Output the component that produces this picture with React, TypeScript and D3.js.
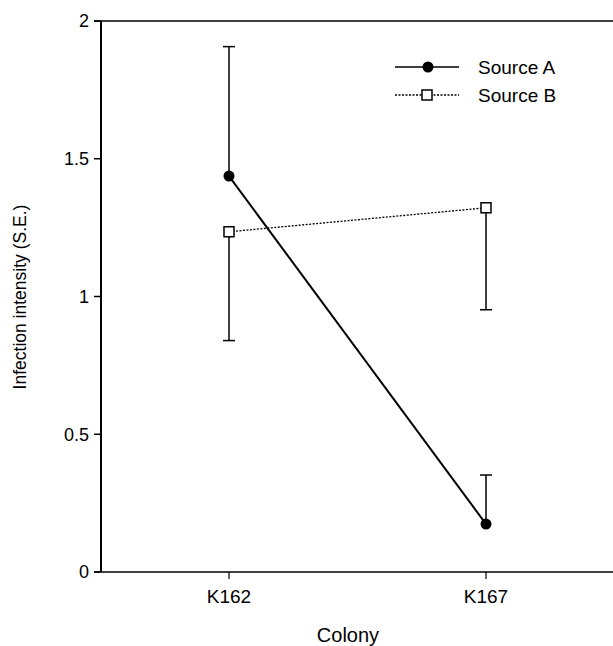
import React from "react";
import * as d3 from "d3";

const categories = ["K162", "K167"];
const sourceA = [1.437, 0.174];
const sourceAErrTop = [1.907, 0.352];
const sourceB = [1.235, 1.322];
const sourceBErrBottom = [0.84, 0.952];
const yTicks = [0, 0.5, 1, 1.5, 2];
const yTickLabels = ["0", "0.5", "1", "1.5", "2"];
const seriesNames = ["Source A", "Source B"];

export default function App() {
  const W = 613, H = 646;
  const left = 101, top = 21, bottom = 572, right = 613;
  const y = d3.scaleLinear().domain([0, 2]).range([bottom, top]);
  const x = d3.scalePoint().domain(categories).range([229, 486]);
  const line = d3.line<number>().x((_, i) => x(categories[i])!).y((d) => y(d));
  const font = "'Liberation Sans', Arial, Helvetica, sans-serif";
  const cap = 6;
  return (
    <svg width={W} height={H} style={{ position: "absolute", left: 0, top: 0, background: "#fff" }} fontFamily={font}>
      {/* axes */}
      <line x1={left} x2={left} y1={top} y2={bottom} stroke="#000" strokeWidth={2} />
      <line x1={left - 7} x2={right} y1={top} y2={top} stroke="#000" strokeWidth={1.5} />
      <line x1={left - 7} x2={right} y1={bottom} y2={bottom} stroke="#000" strokeWidth={1.5} />
      {yTicks.map((t, i) => (
        <g key={t}>
          <line x1={left - 7} x2={left} y1={y(t)} y2={y(t)} stroke="#000" strokeWidth={1.5} />
          <text x={left - 12} y={y(t)} dy="0.35em" textAnchor="end" fontSize={18}>{yTickLabels[i]}</text>
        </g>
      ))}
      {categories.map((c) => (
        <g key={c}>
          <line x1={x(c)} x2={x(c)} y1={bottom} y2={bottom + 7} stroke="#000" strokeWidth={1.2} />
          <text x={x(c)} y={bottom + 24} dy="0.35em" textAnchor="middle" fontSize={19}>{c}</text>
        </g>
      ))}
      <text x={348} y={635} dy="0.35em" textAnchor="middle" fontSize={20}>Colony</text>
      <text transform={`translate(20,297) rotate(-90)`} textAnchor="middle" dy="0.35em" fontSize={17.5}>Infection intensity (S.E.)</text>

      {/* error bars */}
      {categories.map((c, i) => (
        <g key={"ea" + c} stroke="#000" strokeWidth={1.5}>
          <line x1={x(c)} x2={x(c)} y1={y(sourceA[i])} y2={y(sourceAErrTop[i])} />
          <line x1={x(c)! - cap} x2={x(c)! + cap} y1={y(sourceAErrTop[i])} y2={y(sourceAErrTop[i])} />
        </g>
      ))}
      {categories.map((c, i) => (
        <g key={"eb" + c} stroke="#000" strokeWidth={1.5}>
          <line x1={x(c)} x2={x(c)} y1={y(sourceB[i])} y2={y(sourceBErrBottom[i])} />
          <line x1={x(c)! - cap} x2={x(c)! + cap} y1={y(sourceBErrBottom[i])} y2={y(sourceBErrBottom[i])} />
        </g>
      ))}

      {/* series lines */}
      <path d={line(sourceB)!} fill="none" stroke="#000" strokeWidth={1.3} strokeDasharray="2,1.5" />
      <path d={line(sourceA)!} fill="none" stroke="#000" strokeWidth={2} />

      {/* markers */}
      {categories.map((c, i) => (
        <rect key={"mb" + c} x={x(c)! - 5} y={y(sourceB[i]) - 5} width={10} height={10} fill="#fff" stroke="#000" strokeWidth={1.5} />
      ))}
      {categories.map((c, i) => (
        <circle key={"ma" + c} cx={x(c)} cy={y(sourceA[i])} r={5.5} fill="#000" />
      ))}

      {/* legend */}
      <g>
        <line x1={395} x2={459} y1={67} y2={67} stroke="#000" strokeWidth={1.5} />
        <circle cx={428} cy={67} r={5.5} fill="#000" />
        <text x={478} y={67} dy="0.35em" fontSize={19}>{seriesNames[0]}</text>
        <line x1={395} x2={459} y1={95} y2={95} stroke="#000" strokeWidth={1.3} strokeDasharray="2,1.5" />
        <rect x={422} y={90} width={10} height={10} fill="#fff" stroke="#000" strokeWidth={1.5} />
        <text x={478} y={95} dy="0.35em" fontSize={19}>{seriesNames[1]}</text>
      </g>
    </svg>
  );
}
